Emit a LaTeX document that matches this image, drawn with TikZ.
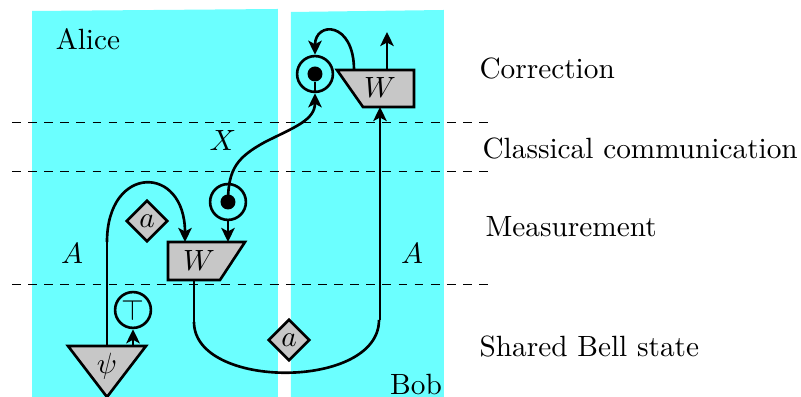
\documentclass[tikz,border=0pt]{standalone}
\usepackage{amsmath}
\usetikzlibrary{shapes.geometric,arrows.meta}

\definecolor{party}{rgb}{0.42,1,1}
\definecolor{boxgray}{gray}{0.78}

\tikzset{
  lab/.style={inner sep=0pt, anchor=west},
  box/.style={draw, line width=0.9pt, fill=boxgray, line join=miter},
  wire/.style={line width=0.9pt},
  ring/.style={draw, line width=0.9pt, circle, minimum size=0.43cm, inner sep=0pt},
  dot/.style={fill=black, circle, minimum size=0.18cm, inner sep=0pt},
  weight/.style={box, diamond, minimum size=0.5cm, inner sep=0pt},
  >={Stealth[length=4.8pt,width=4.6pt,inset=1.2pt]}
}

\begin{document}
\begin{tikzpicture}[x=1.2cm, y=1.2cm]
  \useasboundingbox (0,0) rectangle (8.01,3.97);

  % Alice and Bob
  \fill[party] (0.32,0) -- (2.78,0) -- (2.78,3.88) -- (0.32,3.86) -- cycle;
  \fill[party] (2.91,0) -- (4.44,0) -- (4.44,3.87) -- (2.91,3.85) -- cycle;
  \node (alice) at (0.88,3.58) {Alice};
  \node[inner sep=0pt] (bob) at (4.16,0.12) {Bob};

  % Time steps
  \foreach \y in {2.75,2.26,1.13}
    \draw[line width=0.3pt, dash pattern=on 3pt off 2.5pt] (0.12,\y) -- (4.94,\y);
  \node[lab] (correction) at (4.79,3.28) {Correction};
  \node[lab] (classical) at (4.82,2.48) {Classical communication};
  \node[lab] (measurement) at (4.85,1.70) {Measurement};
  \node[lab] (shared) at (4.79,0.50) {Shared Bell state};

  % Bell state
  \draw[box] (0.68,0.51) -- (1.46,0.51) -- (1.07,0) -- cycle;
  \node (psi) at (1.07,0.31) {$\psi$};
  \node[ring] (unit) at (1.33,0.87) {$\top$};
  \coordinate (psiA) at (1.07,0.51);
  \coordinate (psiB) at (1.33,0.51);
  \draw[wire,->] (psiB) -- (unit);

  % Alice's measurement
  \draw[box] (1.68,1.55) -- (2.45,1.55) -- (2.20,1.17) -- (1.68,1.17) -- cycle;
  \node (wLeft) at (1.99,1.36) {$W$};
  \coordinate (wLeftIn) at (1.85,1.55);
  \coordinate (wLeftDown) at (1.94,1.17);
  \node[weight] (aLeft) at (1.47,1.76) {$a$};
  \node[ring] (measRing) at (2.28,1.95) {};
  \node[dot] (measDot) at (2.28,1.95) {};
  \coordinate (wLeftOut) at (2.28,1.55);
  \draw[wire,->] (measRing) -- (wLeftOut);
  \coordinate (bendA) at (1.07,1.55);
  \draw[wire] (psiA) -- (bendA);
  \draw[wire,->] (bendA) .. controls (1.07,2.33) and (1.85,2.33) .. (wLeftIn);

  % Bob's correction
  \draw[box] (3.37,3.27) -- (4.14,3.27) -- (4.14,2.90) -- (3.63,2.90) -- cycle;
  \node (wRight) at (3.80,3.09) {$W$};
  \node[ring] (corrRing) at (3.15,3.23) {};
  \node[dot] (corrDot) at (3.15,3.23) {};
  \coordinate (wRightBack) at (3.54,3.27);
  \coordinate (wRightUp) at (3.87,3.27);
  \coordinate (outEnd) at (3.87,3.65);
  \coordinate (wRightIn) at (3.80,2.90);
  \draw[wire,->] (wRightBack) .. controls (3.54,3.76) and (3.15,3.76) .. (corrRing.north);
  \draw[wire,->] (wRightUp) -- (outEnd);
  \draw[wire] (corrDot) -- (corrRing.south);
  \draw[wire,->] (measDot.center) .. controls (2.28,2.29) and (2.38,2.40) .. (2.65,2.55)
    .. controls (2.95,2.70) and (3.15,2.77) .. (corrRing.south);

  % Shared wire
  \coordinate (bendL) at (1.94,0.75);
  \coordinate (bendR) at (3.79,0.77);
  \coordinate (riseR) at (3.80,0.77);
  \draw[wire] (wLeftDown) -- (bendL);
  \draw[wire] (bendL) .. controls (1.94,0.07) and (3.79,0.07) .. (bendR);
  \draw[wire,->] (riseR) -- (wRightIn);
  \node[weight] (aMid) at (2.89,0.57) {$a$};

  % Wire labels
  \node (aAlice) at (0.72,1.43) {$A$};
  \node (aBob) at (4.12,1.43) {$A$};
  \node (x) at (2.23,2.56) {$X$};

\end{tikzpicture}
\end{document}
